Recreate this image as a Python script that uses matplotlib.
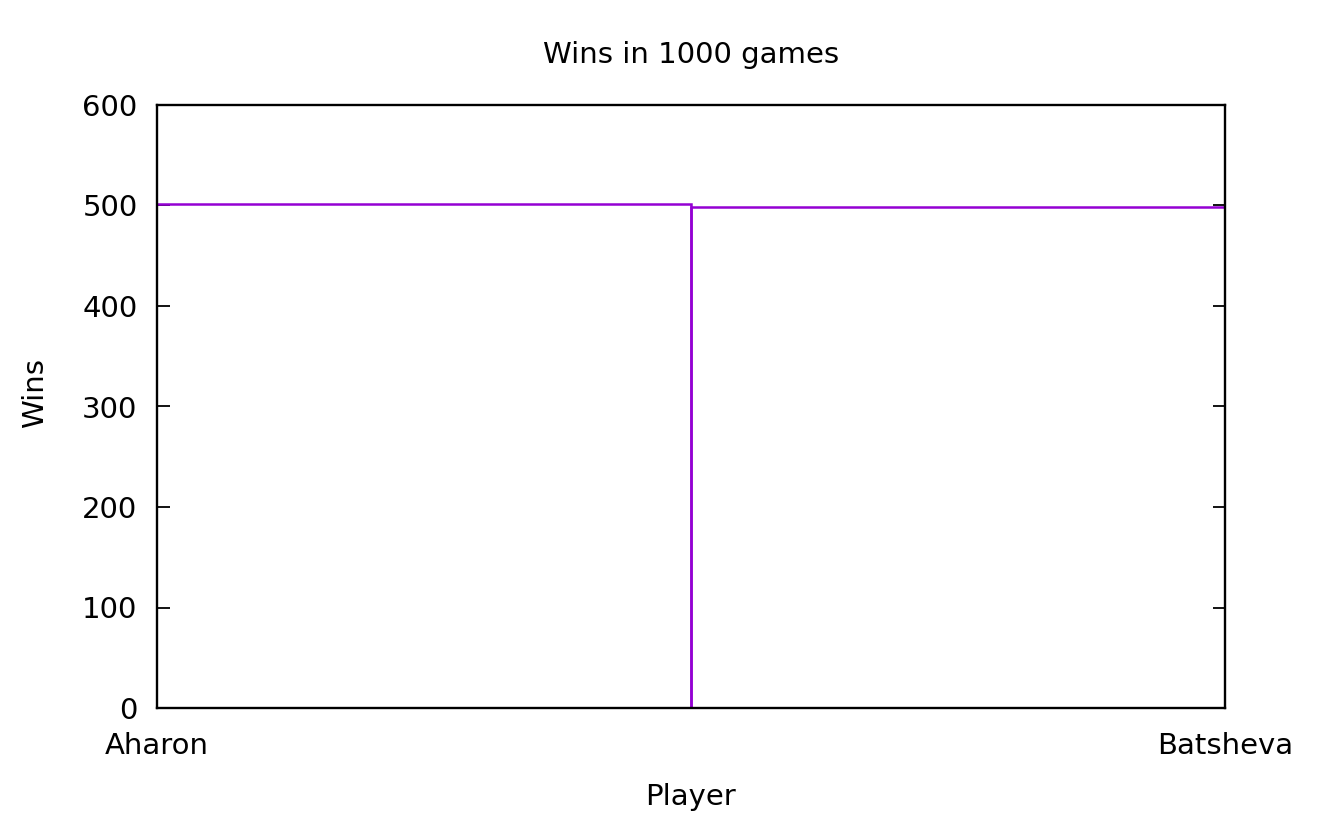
import matplotlib.pyplot as plt

# データ
players = ["Aharon", "Batsheva"]
wins = [501, 499]
y_ticks = [0, 100, 200, 300, 400, 500, 600]

fig = plt.figure(figsize=(13.2, 8.21), dpi=100)
ax = fig.add_axes([157 / 1320, 113 / 821, 1068 / 1320, 603 / 821])

# gnuplot風のboxes
ax.bar(range(len(players)), wins, width=1.0, fill=False,
       edgecolor="#9400d3", linewidth=1.8, zorder=2)

ax.set_xlim(0, len(players) - 1)
ax.set_ylim(0, 600)
ax.set_xticks(range(len(players)))
ax.set_xticklabels(players)
ax.set_yticks(y_ticks)

ax.tick_params(axis="both", direction="in", length=9, width=1.3,
               labelsize=21, color="black")
ax.tick_params(axis="y", right=True, pad=14)
ax.tick_params(axis="x", top=True, pad=17)
for s in ax.spines.values():
    s.set_linewidth(1.7)
    s.set_zorder(3)

# 中心はプロット領域の中央
cx = 691 / 1320
fig.text(cx, 1 - 55 / 821, "Wins in 1000 games", ha="center", va="center", fontsize=21)
fig.text(cx, 1 - 797 / 821, "Player", ha="center", va="center", fontsize=21)
fig.text(35 / 1320, 1 - 393 / 821, "Wins", ha="center", va="center",
         rotation=90, fontsize=21)

fig.savefig("out.png", dpi=100)
